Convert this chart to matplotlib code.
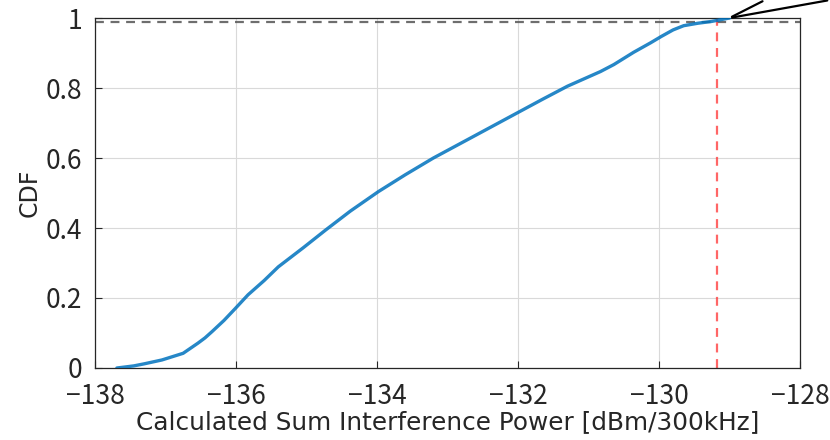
import matplotlib
matplotlib.use("Agg")
import matplotlib.pyplot as plt
import numpy as np

plt.rcParams['font.family'] = ['Noto Sans CJK JP', 'DejaVu Sans']

# CDF curve
power_dbm = [-137.69, -137.45, -137.3, -137.05, -136.75, -136.54, -136.44, -136.34,
             -136.17, -136.01, -135.83, -135.6, -135.40, -135.05, -134.73, -134.38,
             -133.98, -133.6, -133.2, -132.6, -132.01, -131.65, -131.30, -130.83,
             -130.64, -130.36, -130.12, -129.97, -129.8, -129.65, -129.45, -129.26,
             -129.0]
cdf = [0.0, 0.006, 0.012, 0.023, 0.042, 0.071, 0.086, 0.104,
       0.136, 0.17, 0.209, 0.25, 0.289, 0.343, 0.394, 0.448,
       0.504, 0.552, 0.6, 0.665, 0.729, 0.768, 0.805, 0.847,
       0.867, 0.902, 0.929, 0.947, 0.966, 0.978, 0.985, 0.99,
       1.0]

level_99 = 0.99
power_99 = -129.18

xticks = [-138, -136, -134, -132, -130, -128]
yticks = [0, 0.2, 0.4, 0.6, 0.8, 1]

fig = plt.figure(figsize=(8.3, 4.4), dpi=100)
ax = fig.add_axes([95/830, 1 - 368/440, 705/830, 350/440])

ax.plot(power_dbm, cdf, color='#0072BD', linewidth=2.4, alpha=0.85, zorder=3,
        solid_joinstyle='round', solid_capstyle='round')
ax.axhline(level_99, color='#555555', linestyle=(0, (4, 3)), linewidth=1.6, alpha=0.85, zorder=2)
ax.axvline(power_99, color='#FF4040', linestyle=(0, (4, 3)), linewidth=1.6, alpha=0.8, zorder=2)

ax.set_xlim(-138, -128)
ax.set_ylim(0, 1)
ax.set_xticks(xticks)
ax.set_yticks(yticks)
ax.set_xticklabels(['\u2212%d' % abs(t) for t in xticks])
ax.set_yticklabels(['0', '0.2', '0.4', '0.6', '0.8', '1'])
ax.tick_params(direction='in', length=5, labelsize=19, colors='#262626')
ax.tick_params(axis='x', pad=11)
ax.tick_params(axis='y', pad=9)
ax.grid(True, color='#d9d9d9', linewidth=0.8)
ax.set_axisbelow(True)
for s in ax.spines.values():
    s.set_color('#262626')
    s.set_linewidth(0.9)

ax.set_xlabel('Calculated Sum Interference Power [dBm/300kHz]', fontsize=17.8,
              family='DejaVu Sans', color='#262626', labelpad=0)
ax.set_ylabel('CDF', fontsize=17, family='DejaVu Sans', color='#262626', labelpad=3)

# callout lines leaving the top right
tip = (-129.0, 1.0)
ax.annotate('', xy=tip, xytext=(765/830, 1.0), textcoords='figure fraction',
            arrowprops=dict(arrowstyle='-', color='black', lw=1.6))
ax.annotate('', xy=tip, xytext=(1.0, 1.0), textcoords='figure fraction',
            arrowprops=dict(arrowstyle='-', color='black', lw=1.6))

fig.savefig('out.png', dpi=100)
